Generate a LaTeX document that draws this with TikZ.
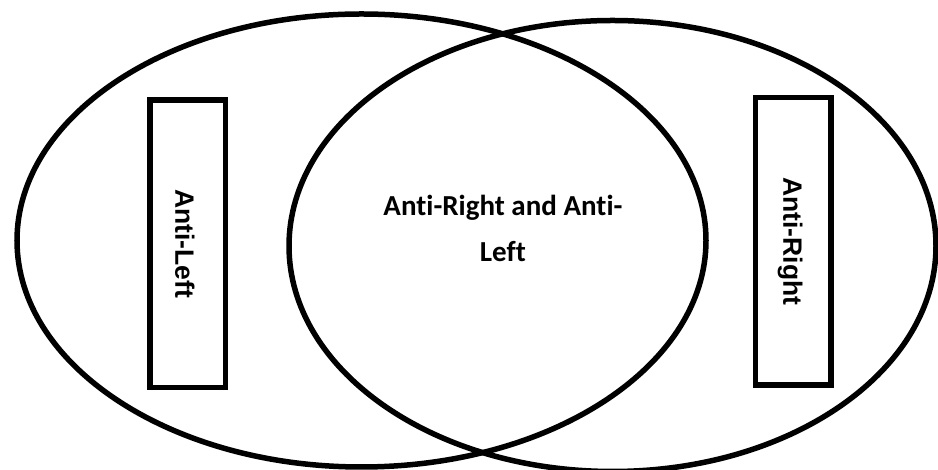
\documentclass[tikz,border=0pt]{standalone}
\usepackage{fontspec}
\setmainfont{Liberation Sans}
\newfontfamily\midfont[Ligatures=NoCommon]{Carlito}
\usetikzlibrary{shapes.geometric}

\begin{document}
\begin{tikzpicture}[
  x=1pt, y=1pt,
  set/.style  = {draw, ellipse, line width=5.5pt, inner sep=0pt},
  side/.style = {draw, rectangle, line width=5.5pt, rotate=-90, inner sep=0pt,
                 minimum width=287.5pt, minimum height=75.5pt, text height=25pt,
                 font=\fontsize{26.5}{30}\selectfont\bfseries},
  mid/.style  = {align=center, font=\midfont\fontsize{29}{45.7}\selectfont\bfseries}
]
  \useasboundingbox (0,0) rectangle (938,470);

  % the two sets
  \node[set, minimum width=689pt, minimum height=453pt] (antileft)  at (361.5,229.5) {};
  \node[set, minimum width=647pt, minimum height=451pt] (antiright) at (612.5,224) {};

  % labels
  \node[side] (leftbox)  at (187.75,226.4) {Anti-Left};
  \node[side] (rightbox) at (793,228.5)    {Anti-Right};
  \node[mid]  (both)     at (502.9,241.5)  {Anti-Right and Anti-\\Left};
\end{tikzpicture}
\end{document}
